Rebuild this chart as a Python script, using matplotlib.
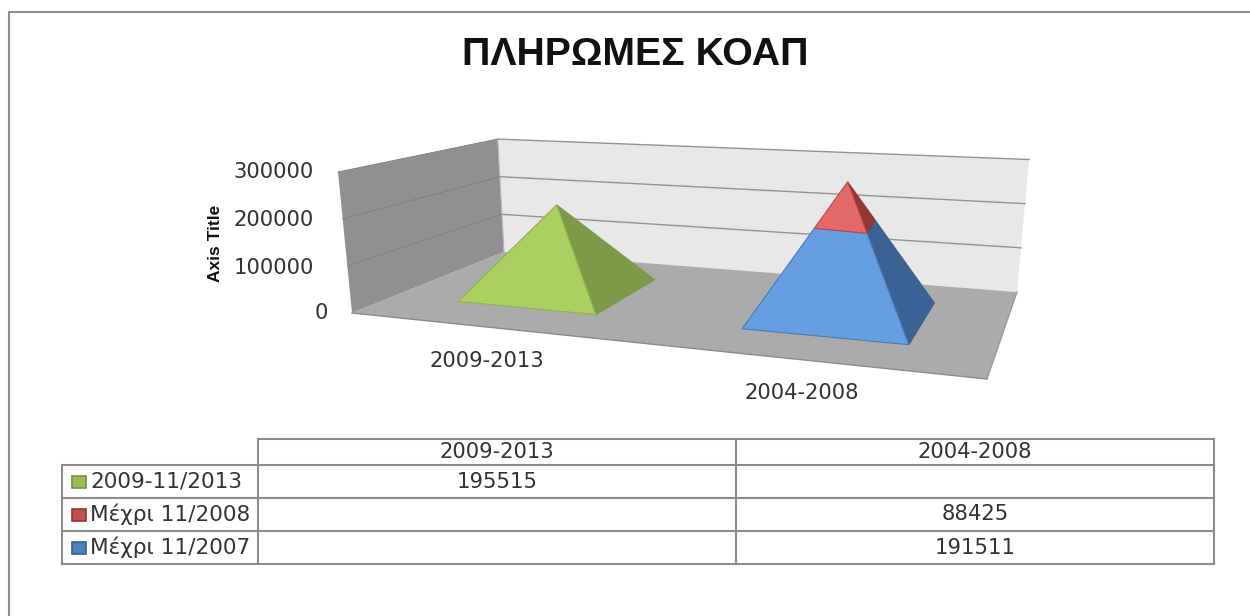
import numpy as np
import matplotlib
matplotlib.use("Agg")
import matplotlib.pyplot as plt
from matplotlib.patches import Polygon, Rectangle

# data
title = "ΠΛΗΡΩΜΕΣ ΚΟΑΠ"
axis_title = "Axis Title"
categories = ["2009-2013", "2004-2008"]
series_names = ["2009-11/2013", "Μέχρι 11/2008", "Μέχρι 11/2007"]
series_2009 = [195515, None]
series_2008 = [None, 88425]
series_2007 = [None, 191511]
y_ticks = [0, 100000, 200000, 300000]

# drawn bottom to top inside a pyramid
stack_order = [series_2007, series_2008, series_2009]
stack_colors = [("#659fe2", "#3b6294", "#4a7ab5"),
                ("#e46a6a", "#943634", "#b04a48"),
                ("#aad062", "#7d9a48", "#8fb350")]
table_rows = [series_2009, series_2008, series_2007]
swatches = [("#9bbb59", "#76923c"), ("#c0504d", "#943634"), ("#4f81bd", "#365f91")]

fig = plt.figure(figsize=(12.5, 6.16), dpi=100)
ax = fig.add_axes([0, 0, 1, 1])
ax.set_xlim(0, 1250)
ax.set_ylim(616, 0)
ax.axis("off")

# floor corners on the page: front left, front right, back right, back left
x0, y0, x1, y1, x2, y2, x3, y3 = 352, 313, 987, 379, 1017, 292, 504, 252
den = (x1 - x2) * (y3 - y2) - (x3 - x2) * (y1 - y2)
sx, sy = x0 - x1 + x2 - x3, y0 - y1 + y2 - y3
g = (sx * (y3 - y2) - (x3 - x2) * sy) / den
h = ((x1 - x2) * sy - sx * (y1 - y2)) / den
a, b = x1 - x0 + g * x1, x3 - x0 + h * x3
d, e = y1 - y0 + g * y1, y3 - y0 + h * y3


def project(u, v, value):
    # u along the categories, v into the depth, value on the y axis
    w = g * u + h * v + 1
    x = (a * u + b * v + x0) / w
    y = (d * u + e * v + y0) / w
    up = 141 / w * value / y_ticks[-1]
    return (x + (x - 698) * 0.000287 * up, y - up)


def edge(p, q, **kw):
    ax.plot([p[0], q[0]], [p[1], q[1]], **kw)


top = y_ticks[-1]
# walls and floor
ax.add_patch(Polygon([project(0, 0, 0), project(0, 1, 0), project(0, 1, top), project(0, 0, top)],
                     fc="#909090", ec="none"))
ax.add_patch(Polygon([project(0, 1, 0), project(1, 1, 0), project(1, 1, top), project(0, 1, top)],
                     fc="#e8e8e8", ec="none"))
ax.add_patch(Polygon([project(0, 0, 0), project(1, 0, 0), project(1, 1, 0), project(0, 1, 0)],
                     fc="#ababab", ec="none"))
edge(project(0, 0, 0), project(1, 0, 0), color="#8a8a8a", lw=1)
edge(project(1, 0, 0), project(1, 1, 0), color="#9a9a9a", lw=1)
edge(project(0, 1, 0), project(0, 1, top), color="#b5b5b5", lw=0.8)

for t in y_ticks[1:]:
    edge(project(0, 0, t), project(0, 1, t), color="#808080", lw=0.7)
    edge(project(0, 1, t), project(1, 1, t), color="#929292", lw=1)

# pyramids
half_u, half_v = 0.127, 0.255
for i in range(len(categories)):
    u = 0.25 + 0.5 * i
    vals = [s[i] or 0 for s in stack_order]
    total = sum(vals)
    apex = np.array(project(u, 0.5, total))
    fl = np.array(project(u - half_u, 0.5 - half_v, 0))
    fr = np.array(project(u + half_u, 0.5 - half_v, 0))
    br = np.array(project(u + half_u, 0.5 + half_v, 0))
    done = 0
    for val, (front, side, line_c) in zip(vals, stack_colors):
        if val == 0:
            continue
        t0, t1 = done / total, (done + val) / total
        done += val
        ax.add_patch(Polygon([fr + (apex - fr) * t0, br + (apex - br) * t0,
                              br + (apex - br) * t1, fr + (apex - fr) * t1],
                             fc=side, ec=side, lw=0.8, zorder=4))
        ax.add_patch(Polygon([fl + (apex - fl) * t0, fr + (apex - fr) * t0,
                              fr + (apex - fr) * t1, fl + (apex - fl) * t1],
                             fc=front, ec=line_c, lw=0.8, zorder=5))

# texts around the plot
ax.text(635, 55, title, fontsize=28.3, fontweight="bold", family="Liberation Sans",
        ha="center", va="center", color="#111111")
ax.text(215, 243, axis_title, fontsize=12.5, fontweight="bold", family="Liberation Sans",
        rotation=90, ha="center", va="center", color="#111111")
for t, (tx, ty) in zip(y_ticks, [(328, 313), (314, 268), (314, 220), (314, 172)]):
    ax.text(tx, ty, str(t), fontsize=15.2, ha="right", va="center", color="#333333")
ax.text(487, 361, categories[0], fontsize=15.2, ha="center", va="center", color="#333333")
ax.text(802, 393, categories[1], fontsize=15.2, ha="center", va="center", color="#333333")

# chart frame, only left and top are in the picture
ax.plot([9, 9, 1250], [616, 12, 12], color="#8c8c8c", lw=1.5)

# data table
col_x = [62, 258, 736, 1214]
row_y = [439, 465, 498, 531, 564]
line = dict(color="#8c8c8c", lw=1.5, solid_capstyle="projecting")
ax.plot([258, 1214], [row_y[0], row_y[0]], **line)
for y in row_y[1:]:
    ax.plot([col_x[0], col_x[-1]], [y, y], **line)
ax.plot([col_x[0], col_x[0]], [row_y[1], row_y[-1]], **line)
for x in col_x[1:]:
    ax.plot([x, x], [row_y[0], row_y[-1]], **line)

for j, cat in enumerate(categories):
    xc = (col_x[j + 1] + col_x[j + 2]) / 2
    ax.text(xc, 452, cat, fontsize=15.2, ha="center", va="center", color="#333333")
for r, (name, vals) in enumerate(zip(series_names, table_rows)):
    yc = (row_y[r + 1] + row_y[r + 2]) / 2
    ax.add_patch(Rectangle((72, yc - 6), 14, 12, fc=swatches[r][0], ec=swatches[r][1], lw=1.2))
    ax.text(90, yc, name, fontsize=15.6, ha="left", va="center", color="#333333")
    for j, val in enumerate(vals):
        if val is not None:
            xc = (col_x[j + 1] + col_x[j + 2]) / 2
            ax.text(xc, yc, str(val), fontsize=15.2, ha="center", va="center", color="#333333")

plt.savefig("out.png", dpi=100)
